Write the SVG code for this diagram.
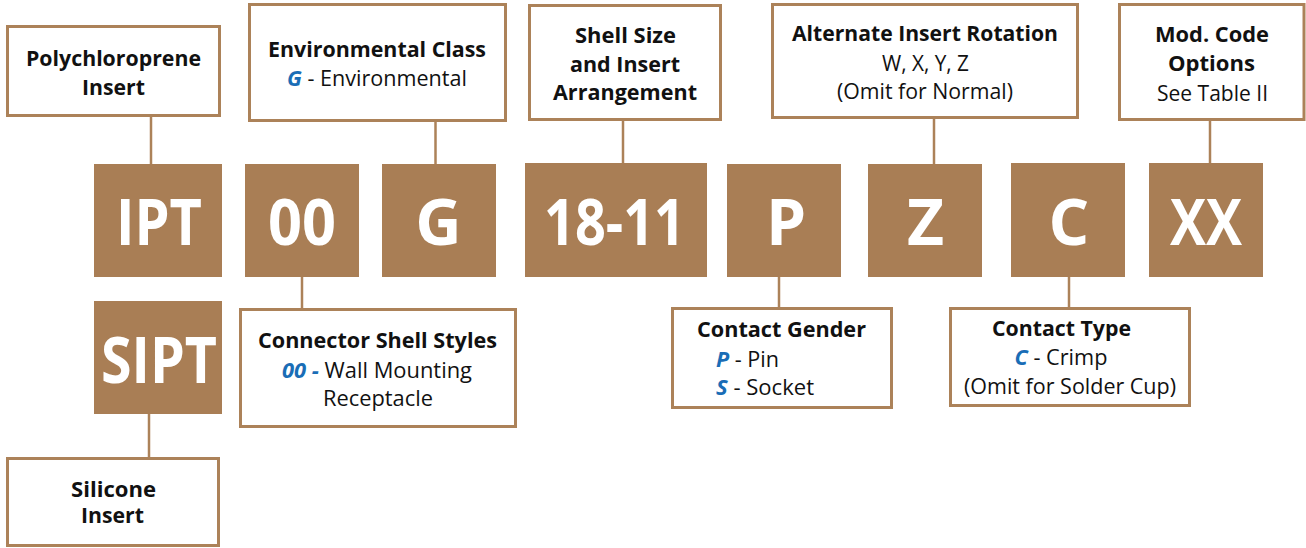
<svg xmlns="http://www.w3.org/2000/svg" width="1306" height="548" viewBox="0 0 1306 548">
<style>
.box{fill:#fff;stroke:#AC8259;stroke-width:3}
.code{fill:#A97E55}
.conn line{stroke:#AC8259;stroke-width:2.5}
.t{font-family:"Open Sans","Liberation Sans",sans-serif;font-size:21px;text-anchor:middle;fill:#111}
.s{text-anchor:start}
.b{font-weight:700}
.blue{fill:#1A6DB6;font-weight:700;font-style:italic}
.big{font-family:"Open Sans","Liberation Sans",sans-serif;font-weight:700;font-size:64px;fill:#fff;text-anchor:middle}
</style>
<rect width="1306" height="548" fill="#fff"/>
<g id="connectors" class="conn">
<line x1="151" y1="116" x2="151" y2="165"/>
<line x1="435.5" y1="121" x2="435.5" y2="165"/>
<line x1="623" y1="120" x2="623" y2="164"/>
<line x1="934" y1="118" x2="934" y2="165"/>
<line x1="1210" y1="120" x2="1210" y2="164"/>
<line x1="302" y1="276" x2="302" y2="309"/>
<line x1="779" y1="276" x2="779" y2="308"/>
<line x1="1069" y1="276" x2="1069" y2="308"/>
<line x1="149" y1="413" x2="149" y2="458"/>
</g>
<g id="polychloroprene">
<rect class="box" x="7.5" y="26.5" width="212" height="89"/>
<text class="t b" x="113.5" y="66" textLength="175" lengthAdjust="spacingAndGlyphs">Polychloroprene</text>
<text class="t b" x="113.5" y="95" textLength="63" lengthAdjust="spacingAndGlyphs">Insert</text>
</g>
<g id="environmental-class">
<rect class="box" x="249.5" y="4.5" width="256" height="116"/>
<text class="t b" x="377" y="57" textLength="218" lengthAdjust="spacingAndGlyphs">Environmental Class</text>
<text class="t" x="377" y="86" textLength="180" lengthAdjust="spacingAndGlyphs"><tspan class="blue">G</tspan> - Environmental</text>
</g>
<g id="shell-size">
<rect class="box" x="529.5" y="5.5" width="191" height="114"/>
<text class="t b" x="625.5" y="43" textLength="101" lengthAdjust="spacingAndGlyphs">Shell Size</text>
<text class="t b" x="625" y="72" textLength="110" lengthAdjust="spacingAndGlyphs">and Insert</text>
<text class="t b" x="625" y="100" textLength="144" lengthAdjust="spacingAndGlyphs">Arrangement</text>
</g>
<g id="alternate-rotation">
<rect class="box" x="772.5" y="4.5" width="305" height="113"/>
<text class="t b" x="925" y="41" textLength="266" lengthAdjust="spacingAndGlyphs">Alternate Insert Rotation</text>
<text class="t" x="925.5" y="71" textLength="87" lengthAdjust="spacingAndGlyphs">W, X, Y, Z</text>
<text class="t" x="925" y="99" textLength="176" lengthAdjust="spacingAndGlyphs">(Omit for Normal)</text>
</g>
<g id="mod-code">
<rect class="box" x="1119.5" y="4.5" width="184.5" height="115"/>
<text class="t b" x="1212" y="42" textLength="114" lengthAdjust="spacingAndGlyphs">Mod. Code</text>
<text class="t b" x="1211.5" y="71" textLength="87" lengthAdjust="spacingAndGlyphs">Options</text>
<text class="t" x="1212.5" y="101" textLength="111" lengthAdjust="spacingAndGlyphs">See Table II</text>
</g>
<g id="code-IPT">
<rect class="code" x="94" y="164" width="128" height="113"/>
<text class="big" x="159" y="245" textLength="86" lengthAdjust="spacingAndGlyphs">IPT</text>
</g>
<g id="code-00">
<rect class="code" x="245" y="164" width="114" height="113"/>
<text class="big" x="302" y="245" textLength="68" lengthAdjust="spacingAndGlyphs">00</text>
</g>
<g id="code-G">
<rect class="code" x="382" y="164" width="114" height="113"/>
<text class="big" x="438.5" y="245">G</text>
</g>
<g id="code-18-11">
<rect class="code" x="525" y="163" width="182" height="114"/>
<text class="big" x="614.5" y="245" textLength="141" lengthAdjust="spacingAndGlyphs">18-11</text>
</g>
<g id="code-P">
<rect class="code" x="727" y="164" width="114" height="113"/>
<text class="big" x="786" y="245">P</text>
</g>
<g id="code-Z">
<rect class="code" x="868" y="164" width="114" height="113"/>
<text class="big" x="925.5" y="245">Z</text>
</g>
<g id="code-C">
<rect class="code" x="1011" y="163" width="114" height="114"/>
<text class="big" x="1069" y="245">C</text>
</g>
<g id="code-XX">
<rect class="code" x="1149" y="163" width="114" height="114"/>
<text class="big" x="1206" y="245" textLength="72" lengthAdjust="spacingAndGlyphs">XX</text>
</g>
<g id="code-SIPT">
<rect class="code" x="94" y="301" width="128" height="113"/>
<text class="big" x="159" y="383" textLength="116" lengthAdjust="spacingAndGlyphs">SIPT</text>
</g>
<g id="connector-shell-styles">
<rect class="box" x="240.5" y="309.5" width="275" height="117"/>
<text class="t b" x="377.5" y="348" textLength="239" lengthAdjust="spacingAndGlyphs">Connector Shell Styles</text>
<text class="t" x="377" y="377.5" textLength="190" lengthAdjust="spacingAndGlyphs"><tspan class="blue">00 -</tspan> Wall Mounting</text>
<text class="t" x="378" y="406" textLength="110" lengthAdjust="spacingAndGlyphs">Receptacle</text>
</g>
<g id="contact-gender">
<rect class="box" x="672.5" y="308.5" width="219" height="99"/>
<text class="t b" x="781.5" y="337" textLength="169" lengthAdjust="spacingAndGlyphs">Contact Gender</text>
<text class="t s" x="716" y="367" textLength="63" lengthAdjust="spacingAndGlyphs"><tspan class="blue">P</tspan> - Pin</text>
<text class="t s" x="716" y="395" textLength="98" lengthAdjust="spacingAndGlyphs"><tspan class="blue">S</tspan> - Socket</text>
</g>
<g id="contact-type">
<rect class="box" x="950.5" y="308.5" width="239" height="97"/>
<text class="t b" x="1061.5" y="336" textLength="139" lengthAdjust="spacingAndGlyphs">Contact Type</text>
<text class="t" x="1061" y="364.5" textLength="93" lengthAdjust="spacingAndGlyphs"><tspan class="blue">C</tspan> - Crimp</text>
<text class="t" x="1070" y="394" textLength="212" lengthAdjust="spacingAndGlyphs">(Omit for Solder Cup)</text>
</g>
<g id="silicone">
<rect class="box" x="7.5" y="458.5" width="211" height="87"/>
<text class="t b" x="113.5" y="497" textLength="85" lengthAdjust="spacingAndGlyphs">Silicone</text>
<text class="t b" x="112.5" y="523" textLength="63" lengthAdjust="spacingAndGlyphs">Insert</text>
</g>
</svg>
